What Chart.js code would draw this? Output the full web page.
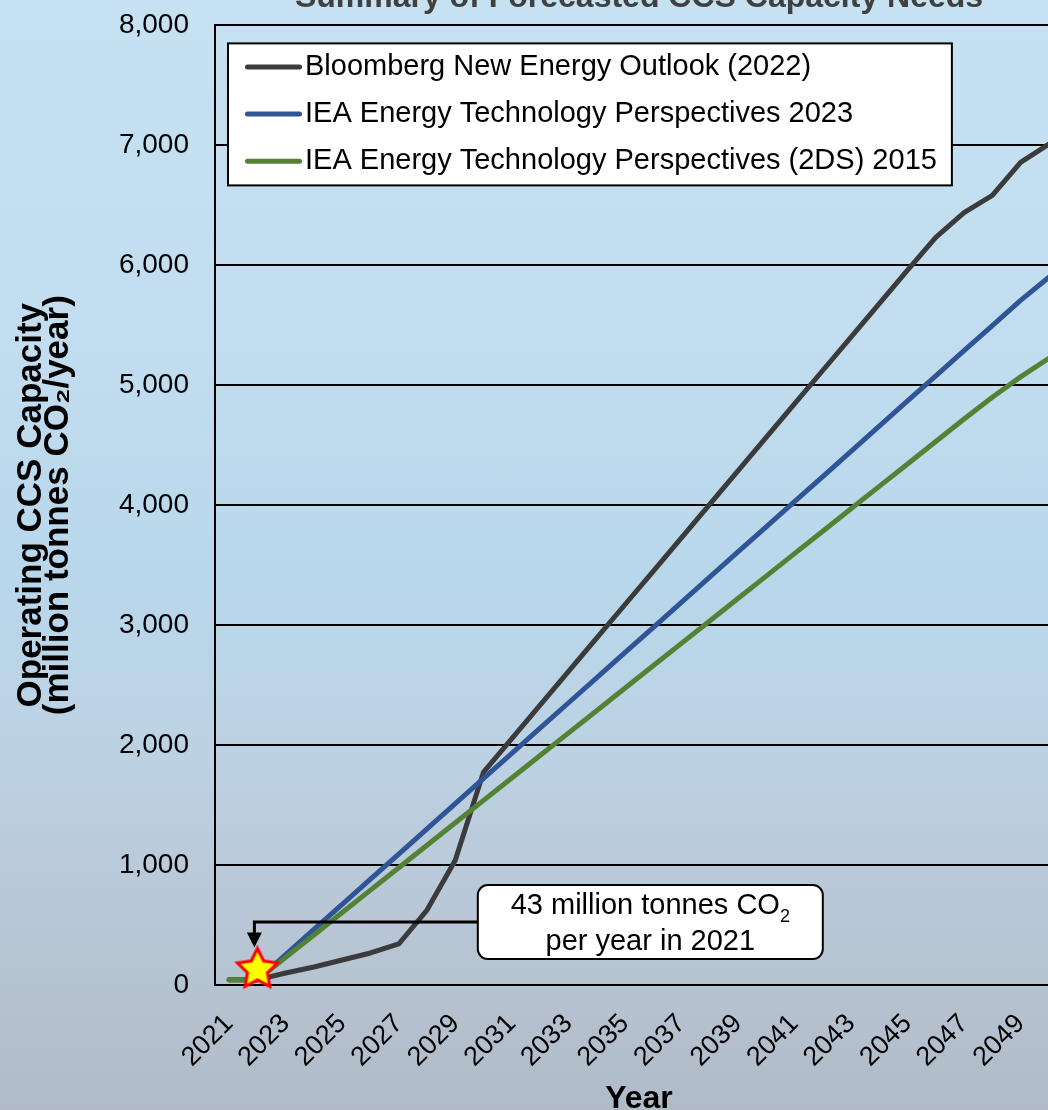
<!DOCTYPE html>
<html>
<head>
<meta charset="utf-8">
<title>Summary of Forecasted CCS Capacity Needs</title>
<script src="https://cdn.jsdelivr.net/npm/chart.js@4.4.1/dist/chart.umd.min.js"></script>
<style>
  html, body { margin: 0; padding: 0; }
  body {
    width: 1048px;
    height: 1110px;
    overflow: hidden;
    position: relative;
    background: linear-gradient(180deg, #c6e1f2 0%, #c2ddef 30%, #b9d7eb 52%, #bcd2e3 68%, #b9c7d6 82%, #b1bbc8 100%);
  }
  /* chart is a bit wider/taller than the window on purpose, the edges are cut off like the source */
  #wrap { position: absolute; left: 0; top: -30px; width: 1063px; height: 1148px; }
</style>
</head>
<body>
<div id="wrap"><canvas id="ccsChart"></canvas></div>
<script>
const FONT = '"Liberation Sans", Arial, Helvetica, sans-serif';

// Years on the category axis
const years = ['2021', '2022', '2023', '2024', '2025', '2026', '2027', '2028', '2029', '2030',
               '2031', '2032', '2033', '2034', '2035', '2036', '2037', '2038', '2039', '2040',
               '2041', '2042', '2043', '2044', '2045', '2046', '2047', '2048', '2049', '2050'];

// Operating CCS capacity, million tonnes CO2 / year
const bloomberg2022 = [43, 43, 100, 150, 208, 267, 342, 625, 1040, 1775,
                       2054, 2333, 2612, 2891, 3170, 3449, 3728, 4007, 4286, 4565,
                       4844, 5123, 5402, 5681, 5960, 6233, 6440, 6583, 6858, 7010];
const iea2023 = [43, 43, 253, 463, 673, 882, 1092, 1302, 1512, 1722,
                 1931, 2141, 2351, 2561, 2771, 2980, 3190, 3400, 3610, 3820,
                 4029, 4239, 4449, 4659, 4869, 5078, 5288, 5498, 5708, 5900];
const iea2015 = [43, 43, 230, 417, 604, 791, 978, 1165, 1352, 1539,
                 1726, 1913, 2100, 2287, 2474, 2661, 2848, 3035, 3222, 3409,
                 3596, 3783, 3970, 4157, 4344, 4531, 4718, 4900, 5070, 5225];

const seriesNames = ['Bloomberg New Energy Outlook (2022)',
                     'IEA Energy Technology Perspectives 2023',
                     'IEA Energy Technology Perspectives (2DS) 2015'];

// Star marker for today's capacity
const markerYear = ['2022'];
const markerValue = [130];
const noteLines = ['43 million tonnes CO', 'per year in 2021'];

const colors = {
    black: '#3b3b3b',
    blue: '#2f5597',
    green: '#548235'
};

// Yellow star with red outline, used as point style
function makeStar(r, inner) {
    const size = Math.ceil(r * 2 + 6);
    const c = document.createElement('canvas');
    c.width = size;
    c.height = size;
    const g = c.getContext('2d');
    g.translate(size / 2, size / 2);
    g.beginPath();
    for (let i = 0; i < 10; i++) {
        const rad = i % 2 === 0 ? r : r * inner;
        const a = -Math.PI / 2 + i * Math.PI / 5;
        g.lineTo(rad * Math.cos(a), rad * Math.sin(a));
    }
    g.closePath();
    g.fillStyle = '#ffff00';
    g.fill();
    g.lineWidth = 3;
    g.lineJoin = 'miter';
    g.strokeStyle = '#ff0000';
    g.stroke();
    return c;
}

// Legend drawn as a white box inside the plot
const boxedLegend = {
    id: 'boxedLegend',
    afterDatasetsDraw(chart) {
        const { ctx, chartArea } = chart;
        const items = chart.data.datasets.filter(d => d.inLegend);
        ctx.save();
        ctx.font = '29px ' + FONT;
        const textW = Math.max(...items.map(d => ctx.measureText(d.label).width));
        const left = chartArea.left + 13;
        const top = chartArea.top + 18;
        const padL = 17, lineLen = 57, gap = 3, padR = 15;
        const w = padL + lineLen + gap + textW + padR;
        const h = 142;
        ctx.fillStyle = '#ffffff';
        ctx.fillRect(left, top, w, h);
        ctx.lineWidth = 2;
        ctx.strokeStyle = '#000';
        ctx.strokeRect(left, top, w, h);
        items.forEach((d, i) => {
            const cy = top + 23.5 + i * 47.2;
            ctx.strokeStyle = d.borderColor;
            ctx.lineWidth = 5;
            ctx.lineCap = 'round';
            ctx.beginPath();
            ctx.moveTo(left + padL + 2.5, cy);
            ctx.lineTo(left + padL + lineLen - 2.5, cy);
            ctx.stroke();
            ctx.fillStyle = '#000';
            ctx.textAlign = 'left';
            ctx.textBaseline = 'middle';
            ctx.fillText(d.label, left + padL + lineLen + gap, cy);
        });
        ctx.restore();
    }
};

// Callout box with elbow arrow pointing at the star
const noteCallout = {
    id: 'noteCallout',
    afterDatasetsDraw(chart) {
        const { ctx, scales: { x, y } } = chart;
        const star = chart.getDatasetMeta(3).data[0];
        if (!star) return;
        const cx = x.getPixelForValue(14.9);
        const cy = y.getPixelForValue(525);
        const bw = 345, bh = 74;
        const bl = cx - bw / 2, bt = cy - bh / 2;
        const ax = star.x - 3;

        ctx.save();
        // connector
        const tipY = star.y - 22;
        ctx.strokeStyle = '#000';
        ctx.lineWidth = 3;
        ctx.beginPath();
        ctx.moveTo(bl, cy);
        ctx.lineTo(ax, cy);
        ctx.lineTo(ax, tipY - 12);
        ctx.stroke();
        ctx.fillStyle = '#000';
        ctx.beginPath();
        ctx.moveTo(ax - 7.5, tipY - 15);
        ctx.lineTo(ax + 7.5, tipY - 15);
        ctx.lineTo(ax, tipY);
        ctx.closePath();
        ctx.fill();

        // box
        ctx.beginPath();
        ctx.roundRect(bl, bt, bw, bh, 10);
        ctx.fillStyle = '#ffffff';
        ctx.fill();
        ctx.lineWidth = 2;
        ctx.strokeStyle = '#000';
        ctx.stroke();

        // text, first line has a subscript 2
        ctx.fillStyle = '#000';
        ctx.textBaseline = 'alphabetic';
        ctx.textAlign = 'left';
        ctx.font = '29px ' + FONT;
        const w1 = ctx.measureText(noteLines[0]).width;
        ctx.font = '18px ' + FONT;
        const w2 = ctx.measureText('2').width;
        const x0 = cx - (w1 + w2) / 2;
        const base1 = bt + 29;
        ctx.font = '29px ' + FONT;
        ctx.fillText(noteLines[0], x0, base1);
        ctx.font = '18px ' + FONT;
        ctx.fillText('2', x0 + w1, base1 + 8);
        ctx.font = '29px ' + FONT;
        ctx.textAlign = 'center';
        ctx.fillText(noteLines[1], cx, bt + 65);
        ctx.restore();
    }
};

new Chart(document.getElementById('ccsChart'), {
    type: 'line',
    data: {
        labels: years,
        datasets: [
            {
                label: seriesNames[0],
                data: bloomberg2022,
                borderColor: colors.black,
                backgroundColor: colors.black,
                inLegend: true,
                order: 3
            },
            {
                label: seriesNames[1],
                data: iea2023,
                borderColor: colors.blue,
                backgroundColor: colors.blue,
                inLegend: true,
                order: 2
            },
            {
                label: seriesNames[2],
                data: iea2015,
                borderColor: colors.green,
                backgroundColor: colors.green,
                inLegend: true,
                order: 1
            },
            {
                label: 'marker',
                data: markerYear.map((yr, i) => ({ x: yr, y: markerValue[i] })),
                showLine: false,
                pointStyle: makeStar(21, 0.5),
                pointRadius: 22,
                clip: false,
                order: 0
            }
        ]
    },
    options: {
        responsive: true,
        maintainAspectRatio: false,
        animation: false,
        // the big star marker would otherwise make the layout reserve room on the right
        layout: { padding: 0, autoPadding: false },
        elements: {
            line: { borderWidth: 5, tension: 0, borderJoinStyle: 'round', borderCapStyle: 'round' },
            point: { radius: 0, hoverRadius: 0 }
        },
        plugins: {
            legend: { display: false },
            tooltip: { enabled: false },
            title: {
                display: true,
                fullSize: false,
                text: 'Summary of Forecasted CCS Capacity Needs',
                color: '#404040',
                font: { family: FONT, size: 32, weight: 'bold' },
                padding: { top: 9, bottom: 8 }
            }
        },
        scales: {
            x: {
                offset: true,
                // invisible tick marks push the labels down without reserving room on the right
                grid: {
                    display: true,
                    drawOnChartArea: false,
                    drawTicks: true,
                    tickLength: 33,
                    tickColor: 'rgba(0,0,0,0)'
                },
                border: { display: true, color: '#000', width: 2 },
                ticks: {
                    autoSkip: false,
                    minRotation: 45,
                    maxRotation: 45,
                    padding: -10,
                    color: '#000',
                    font: { family: FONT, size: 27 },
                    callback: function (val, index) {
                        return index % 2 === 0 ? this.getLabelForValue(val) : '';
                    }
                },
                title: {
                    display: true,
                    text: 'Year',
                    color: '#000',
                    font: { family: FONT, size: 32, weight: 'bold' },
                    padding: { top: 0, bottom: 0 }
                },
                afterFit: scale => { scale.height = 133; }
            },
            y: {
                min: 0,
                max: 8000,
                grid: { color: '#000', lineWidth: 2, drawTicks: false },
                border: { display: true, color: '#000', width: 2 },
                ticks: {
                    stepSize: 1000,
                    padding: 26,
                    color: '#000',
                    font: { family: FONT, size: 28 },
                    callback: v => v.toLocaleString('en-US')
                },
                title: {
                    display: true,
                    text: ['Operating CCS Capacity', '(million tonnes CO\u2082/year)'],
                    color: '#000',
                    font: { family: FONT, size: 35, weight: 'bold', lineHeight: '27px' },
                    padding: { top: 18, bottom: 0 }
                },
                afterFit: scale => { scale.width = 215; }
            }
        }
    },
    plugins: [boxedLegend, noteCallout]
});
</script>
</body>
</html>
